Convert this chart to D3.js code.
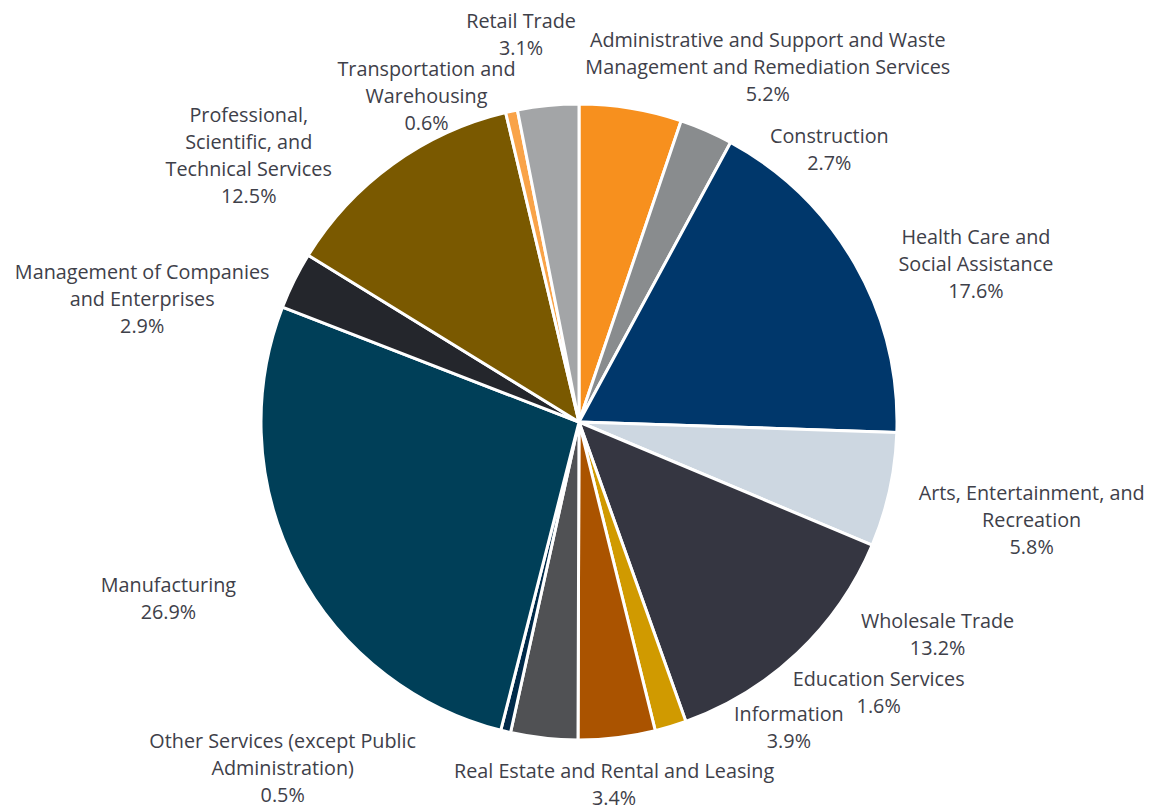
<!DOCTYPE html>
<html>
<head>
<meta charset="utf-8">
<script src="https://cdn.jsdelivr.net/npm/d3@7/dist/d3.min.js"></script>
<style>
  html, body { margin: 0; padding: 0; background: #fff; }
  svg { display: block; }
  .lbl { font-family: "Open Sans", "Noto Sans", sans-serif; font-size: 19.8px; fill: #3e4049; }
</style>
</head>
<body>
<svg id="chart" width="1150" height="807"></svg>
<script>
// Industry shares (%), clockwise from 12 o'clock
const categories = [
  "Administrative and Support and Waste Management and Remediation Services",
  "Construction",
  "Health Care and Social Assistance",
  "Arts, Entertainment, and Recreation",
  "Wholesale Trade",
  "Education Services",
  "Information",
  "Real Estate and Rental and Leasing",
  "Other Services (except Public Administration)",
  "Manufacturing",
  "Management of Companies and Enterprises",
  "Professional, Scientific, and Technical Services",
  "Transportation and Warehousing",
  "Retail Trade"
];
const shares = [5.2, 2.7, 17.6, 5.8, 13.2, 1.6, 3.9, 3.4, 0.5, 26.9, 2.9, 12.5, 0.6, 3.1];

// Label line breaks
const labelLines = [
  ["Administrative and Support and Waste", "Management and Remediation Services"],
  ["Construction"],
  ["Health Care and", "Social Assistance"],
  ["Arts, Entertainment, and", "Recreation"],
  ["Wholesale Trade"],
  ["Education Services"],
  ["Information"],
  ["Real Estate and Rental and Leasing"],
  ["Other Services (except Public", "Administration)"],
  ["Manufacturing"],
  ["Management of Companies", "and Enterprises"],
  ["Professional,", "Scientific, and", "Technical Services"],
  ["Transportation and", "Warehousing"],
  ["Retail Trade"]
];

const palette = [
  "#f7901e", "#898c8e", "#00376b", "#cdd7e1", "#353641", "#d09a00", "#aa5300",
  "#505154", "#002a4a", "#003f58", "#24262c", "#7a5900", "#f9a348", "#a3a5a7"
];

// Layout
const cx = 579, cy = 422, radius = 318, lineH = 27;
// hand-placed label offsets from each slice's outer mid-point
const labelNudge = [
  [137, -42], [123, 18], [121, 0], [142, 30], [140, -19], [208, -34], [172, -11],
  [70, 46], [-223, 36], [-128, 30], [-152, 18], [-144, -9], [-85, -16], [-27, -72]
];

const rows = categories.map((c, i) => ({ name: c, value: shares[i], lines: labelLines[i], i }));

const svg = d3.select("#chart");
const g = svg.append("g").attr("transform", `translate(${cx},${cy})`);

const color = d3.scaleOrdinal().domain(categories).range(palette);
const pie = d3.pie().value(d => d.value).sort(null);
const arc = d3.arc().innerRadius(0).outerRadius(radius);

const arcs = pie(rows);

g.selectAll("path.slice")
  .data(arcs)
  .join("path")
  .attr("class", "slice")
  .attr("d", arc)
  .attr("fill", d => color(d.data.name))
  .attr("stroke", "#fff")
  .attr("stroke-width", 3)
  .attr("stroke-linejoin", "round");

g.selectAll("text.lbl")
  .data(arcs)
  .join("text")
  .attr("class", "lbl")
  .attr("text-anchor", "middle")
  .each(function (d) {
    const mid = (d.startAngle + d.endAngle) / 2;
    const nudge = labelNudge[d.data.i];
    const x = Math.sin(mid) * radius + nudge[0];
    const y = -Math.cos(mid) * radius + nudge[1];
    const lines = d.data.lines.concat([d3.format(".1f")(d.data.value) + "%"]);
    const n = lines.length;
    const t = d3.select(this);
    lines.forEach((ln, k) => {
      t.append("tspan")
        .attr("x", x)
        .attr("y", y + (k - (n - 1) / 2) * lineH)
        .attr("dominant-baseline", "central")
        .text(ln);
    });
  });
</script>
</body>
</html>
